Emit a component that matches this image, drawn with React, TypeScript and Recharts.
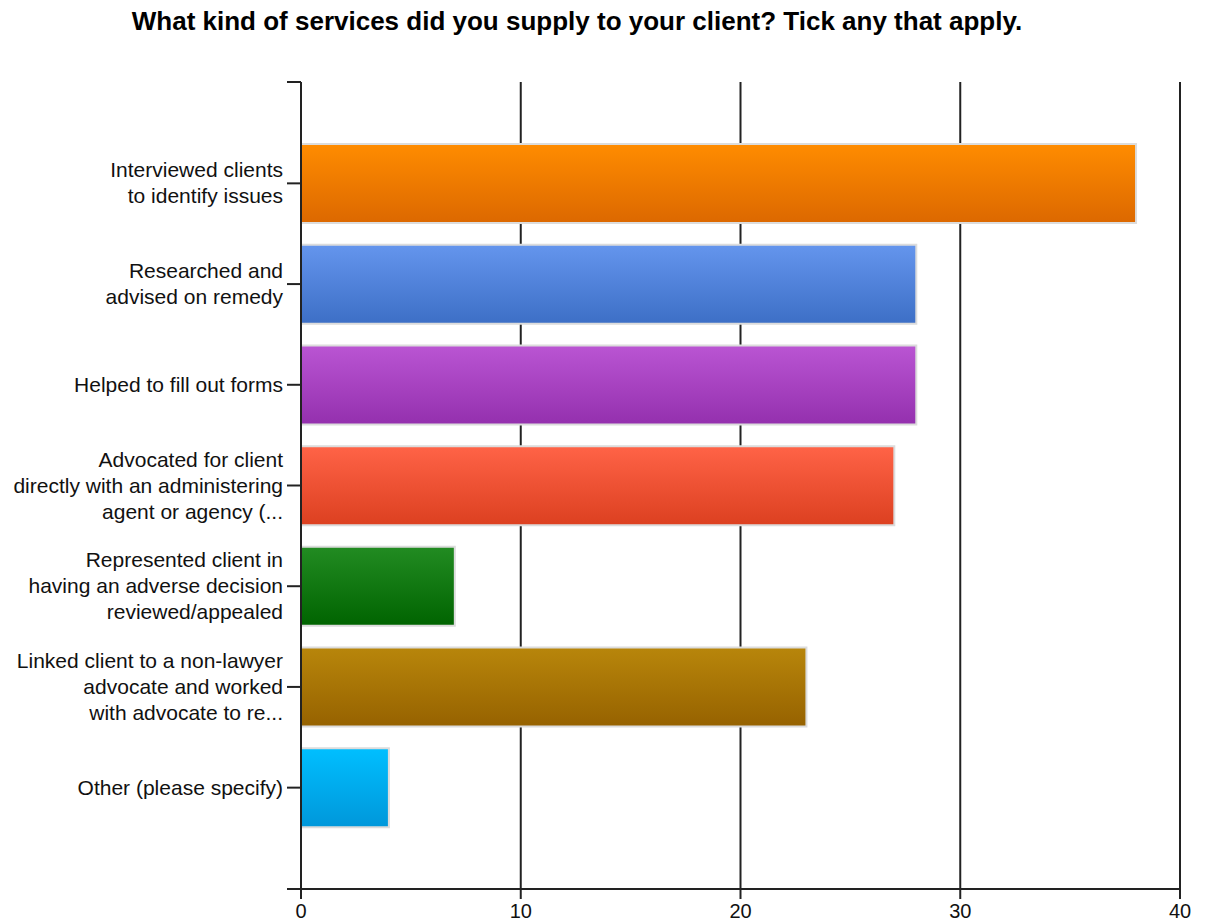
import React from 'react';
import { BarChart, Bar, XAxis, YAxis, CartesianGrid, Cell } from 'recharts';

const categories = [
  'Interviewed clients\nto identify issues',
  'Researched and\nadvised on remedy',
  'Helped to fill out forms',
  'Advocated for client\ndirectly with an administering\nagent or agency (...',
  'Represented client in\nhaving an adverse decision\nreviewed/appealed',
  'Linked client to a non-lawyer\nadvocate and worked\nwith advocate to re...',
  'Other (please specify)',
];
const counts = [38, 28, 28, 27, 7, 23, 4];
const xTicks = [0, 10, 20, 30, 40];

// top / bottom colour of each bar's gradient
const barColors = [
  ['#ff8c00', '#dc6800'],
  ['#6495ed', '#3d6fc6'],
  ['#ba55d3', '#9430ae'],
  ['#ff6347', '#dc4020'],
  ['#228b22', '#006400'],
  ['#b8860b', '#966200'],
  ['#00bfff', '#0097da'],
];

const data = categories.map((name, i) => ({ name, value: counts[i] }));

const FONT = '"Liberation Sans", Arial, sans-serif';

const CategoryTick = ({ x, y, payload }: any) => {
  const lines = String(payload.value).split('\n');
  const lineH = 26;
  const startY = y - ((lines.length - 1) * lineH) / 2;
  return (
    <text x={x} y={startY} textAnchor="end" fontSize={21} fontFamily={FONT} fill="#111">
      {lines.map((l, i) => (
        <tspan key={i} x={x} dy={i === 0 ? 7 : lineH}>
          {l}
        </tspan>
      ))}
    </text>
  );
};

const App: React.FC = () => {
  return (
    <div style={{ position: 'absolute', left: 0, top: 0, width: 1206, height: 924, background: '#fff' }}>
      <div
        style={{
          position: 'absolute',
          top: 6,
          left: 0,
          width: 1154,
          textAlign: 'center',
          fontFamily: FONT,
          fontWeight: 'bold',
          fontSize: 26,
          color: '#000',
        }}
      >
        What kind of services did you supply to your client? Tick any that apply.
      </div>
      <BarChart
        width={1206}
        height={924}
        data={data}
        layout="vertical"
        margin={{ top: 82, right: 26, left: 10, bottom: 0 }}
        barCategoryGap={0}
      >
        <defs>
          {barColors.map(([top, bottom], i) => (
            <linearGradient key={i} id={`bar${i}`} x1="0" y1="0" x2="0" y2="1">
              <stop offset="0%" stopColor={top} />
              <stop offset="100%" stopColor={bottom} />
            </linearGradient>
          ))}
        </defs>
        <CartesianGrid horizontal={false} stroke="#222" strokeWidth={2} />
        <XAxis
          type="number"
          domain={[0, 40]}
          ticks={xTicks}
          height={35}
          axisLine={{ stroke: '#222', strokeWidth: 2 }}
          tickLine={{ stroke: '#222', strokeWidth: 2 }}
          tickSize={10}
          tickMargin={5}
          tick={{ fontSize: 20, fontFamily: FONT, fill: '#111' }}
        />
        <YAxis
          type="category"
          dataKey="name"
          width={291}
          padding={{ top: 51, bottom: 51 }}
          tickSize={14}
          tickMargin={4}
          interval={0}
          axisLine={{ stroke: '#222', strokeWidth: 2 }}
          tickLine={{ stroke: '#222', strokeWidth: 2 }}
          tick={<CategoryTick />}
        />
        {/* frame axis: only adds the short ticks at the top and bottom ends of the axis */}
        <YAxis
          yAxisId="frame"
          type="category"
          dataKey="name"
          scale="point"
          ticks={[categories[0], categories[categories.length - 1]]}
          interval={0}
          mirror
          tickSize={-14}
          tickFormatter={() => ''}
          axisLine={false}
          tickLine={{ stroke: '#222', strokeWidth: 2 }}
        />
        <Bar dataKey="value" barSize={79} stroke="#dcdcdc" strokeWidth={2} isAnimationActive={false}>
          {data.map((_, i) => (
            <Cell key={i} fill={`url(#bar${i})`} />
          ))}
        </Bar>
      </BarChart>
    </div>
  );
};

export default App;
